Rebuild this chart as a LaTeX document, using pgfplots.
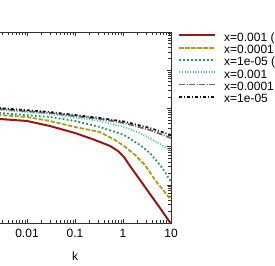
\documentclass[border=0pt]{standalone}
\usepackage{fontspec}
\setmainfont{Liberation Sans}
\usepackage{pgfplots}
\pgfplotsset{compat=1.18}
\definecolor{cred}{RGB}{150,25,25}
\definecolor{colive}{RGB}{165,160,25}
\definecolor{cgreen}{RGB}{35,150,90}
\definecolor{ccyan}{RGB}{60,190,190}
\definecolor{cgray}{RGB}{105,105,105}
\definecolor{cblack}{RGB}{20,20,20}
\tikzset{
  sred/.style={draw=cred, line width=2pt, solid},
  solive/.style={draw=colive, line width=1.8pt, dash pattern=on 4.3pt off 1.7pt},
  sgreen/.style={draw=cgreen, line width=1.8pt, dash pattern=on 1.8pt off 2.2pt},
  scyan/.style={draw=ccyan, line width=1.7pt, dash pattern=on 1pt off 1.7pt},
  sgray/.style={draw=cgray, line width=1.8pt, dash pattern=on 6pt off 1.5pt on 1pt off 1.5pt},
  sblack/.style={draw=cblack, line width=1.7pt, dash pattern=on 3pt off 2pt on 1pt off 2pt},
}
\begin{document}
\fontsize{12}{14}\selectfont
\begin{tikzpicture}[x=1pt,y=1pt]
\begin{axis}[
  at={(0pt,0pt)}, anchor=south west,
  scale only axis, width=192pt, height=191pt,
  xmode=log, ymode=log,
  xmin=1e-3, xmax=10, ymin=1e-3, ymax=1e2,
  xtick={0.001,0.01,0.1,1,10},
  xticklabels={0.001,0.01,0.1,1,10},
  ytick={1e-3,1e-2,1e-1,1,10,100},
  yticklabels={0.001,0.01,0.1,1,10,100},
  tick align=inside,
  xtick pos=both, ytick pos=both,
  xticklabel pos=lower, yticklabel pos=left,
  axis line style={black!80, line width=0.8pt},
  every tick/.append style={black!80, line width=0.6pt},
  ticklabel style={font=\fontsize{12}{14}\selectfont},
  xticklabel style={anchor=center, yshift=-10.5pt},
  xlabel={k},
  xlabel style={at={(axis description cs:0.5,0)}, anchor=center, yshift=-33pt, font=\fontsize{12}{14}\selectfont},
  legend style={at={(rel axis cs:1,1)}, anchor=north west, xshift=7pt, yshift=0pt,
    draw=none, fill=none, inner sep=0pt, row sep=0pt, column sep=8pt,
    font=\fontsize{12}{14}\selectfont,
    nodes={inner sep=0pt, text height=9pt, text depth=3.3pt}},
  legend cell align=left,
]
\addplot[sred, legend image code/.code={\draw[sred] (0pt,3pt) -- (36pt,3pt);}] coordinates {
(0.001,0.561) (0.00274,0.528) (0.01,0.468) (0.0301,0.346) (0.1,0.227)
(0.261,0.149) (0.536,0.104) (0.787,0.0767) (1.05,0.0535) (1.40,0.0310)
(2.26,0.0134) (3.65,0.00574) (5.90,0.00247) (10,0.00095)};
\addlegendentry{x=0.001 (LO)}
\addplot[solive, legend image code/.code={\draw[solive] (0pt,3pt) -- (36pt,3pt);}] coordinates {
(0.001,0.713) (0.00274,0.671) (0.01,0.596) (0.0301,0.468) (0.1,0.326)
(0.332,0.241) (0.681,0.149) (1.05,0.104) (1.78,0.0603) (2.87,0.0330)
(4.64,0.0134) (6.81,0.00731) (10,0.00400)};
\addlegendentry{x=0.0001 (LO)}
\addplot[sgreen, legend image code/.code={\draw[sgreen] (0pt,3pt) -- (36pt,3pt);}] coordinates {
(0.001,0.805) (0.00274,0.759) (0.0301,0.596) (0.1,0.468) (0.332,0.326)
(1.05,0.201) (2.26,0.110) (3.65,0.0679) (5.90,0.0330) (7.50,0.0216) (10,0.01183)};
\addlegendentry{x=1e-05 (LO)}
\addplot[scyan, legend image code/.code={\draw[scyan] (0pt,3pt) -- (36pt,3pt);}] coordinates {
(0.001,0.963) (0.00274,0.908) (0.0301,0.713) (0.332,0.468) (1.05,0.326)
(2.26,0.227) (3.65,0.163) (5.90,0.117) (10,0.0767)};
\addlegendentry{x=0.001}
\addplot[sgray, legend image code/.code={\draw[sgray] (0pt,3pt) -- (36pt,3pt);}] coordinates {
(0.001,1.02) (0.00274,0.963) (0.0301,0.759) (0.332,0.528) (1.05,0.415)
(3.65,0.272) (10,0.168)};
\addlegendentry{x=0.0001}
\addplot[sblack, legend image code/.code={\draw[sblack] (0pt,3pt) -- (36pt,3pt);}] coordinates {
(0.001,1.156) (0.00274,1.02) (0.0301,0.805) (0.332,0.561) (1.05,0.454)
(3.65,0.307) (10,0.201)};
\addlegendentry{x=1e-05}
\end{axis}
\pgfresetboundingbox
\path[use as bounding box] (21pt,-42pt) rectangle (296pt,223pt);
\end{tikzpicture}
\end{document}
